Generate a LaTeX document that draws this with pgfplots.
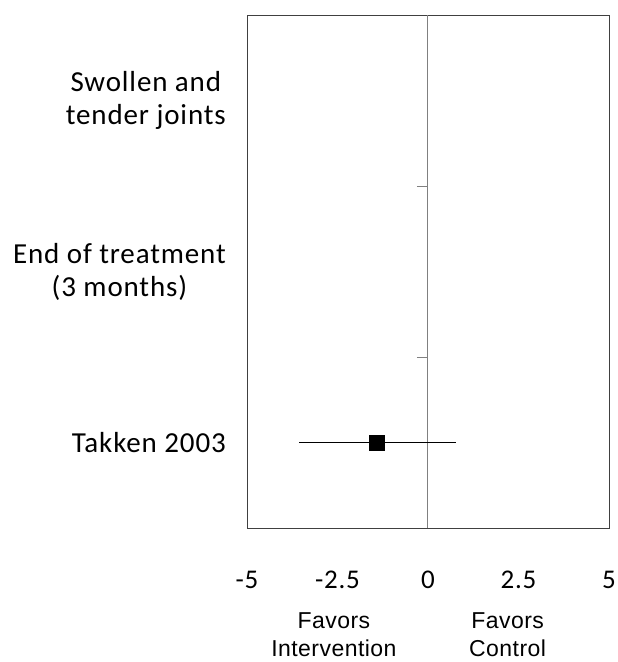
\documentclass[border=0pt]{standalone}
\usepackage{pgfplots}
\pgfplotsset{compat=1.18}
\usepackage{fontspec}
\setmainfont{Carlito}[LetterSpace=3]
\newfontfamily\arialfont{Liberation Sans}[LetterSpace=2]
\definecolor{zline}{HTML}{808080}
\definecolor{boxc}{HTML}{404040}
\begin{document}
\begin{tikzpicture}
\begin{axis}[
  scale only axis,
  width=362pt, height=513pt,
  xmin=-5, xmax=5, ymin=0.5, ymax=3.5,
  axis line style={boxc, line width=0.9pt},
  xtick={-5,-2.5,0,2.5,5},
  xticklabels={-5,-2.5,0,2.5,5},
  xtick style={draw=none},
  xticklabel style={font=\fontsize{27}{32}\selectfont, anchor=base, yshift=-60pt, inner sep=0pt},
  ytick={1,2,3},
  yticklabels={Takken 2003, {End of treatment\\(3 months)}, {Swollen and\\tender joints}},
  ytick style={draw=none},
  yticklabel style={font=\fontsize{29}{33}\selectfont, align=center, inner sep=0pt, xshift=-21pt},
  clip=false,
]
\coordinate (sw) at (rel axis cs:0,0);
\addplot[zline, line width=1pt] coordinates {(0,0.5) (0,3.5)};
\draw[zline, line width=1pt] ([xshift=-11pt]axis cs:0,1.5) -- (axis cs:0,1.5);
\draw[zline, line width=1pt] ([xshift=-11pt]axis cs:0,2.5) -- (axis cs:0,2.5);
\addplot[black, line width=1.2pt] coordinates {(-3.56,1) (0.77,1)};
\addplot[black, only marks, mark=square*, mark size=7.5pt] coordinates {(-1.42,1)};
\node[font=\arialfont\fontsize{23}{28}\selectfont, align=center, anchor=north, inner sep=0pt] at ([yshift=-84pt]axis cs:-2.6,0.5) {Favors\\Intervention};
\node[font=\arialfont\fontsize{23}{28}\selectfont, align=center, anchor=north, inner sep=0pt] at ([yshift=-84pt]axis cs:2.2,0.5) {Favors\\Control};
\end{axis}
\pgfresetboundingbox
\path (sw) ++(-247pt,-134pt) rectangle ++(618pt,662pt);
\end{tikzpicture}
\end{document}
